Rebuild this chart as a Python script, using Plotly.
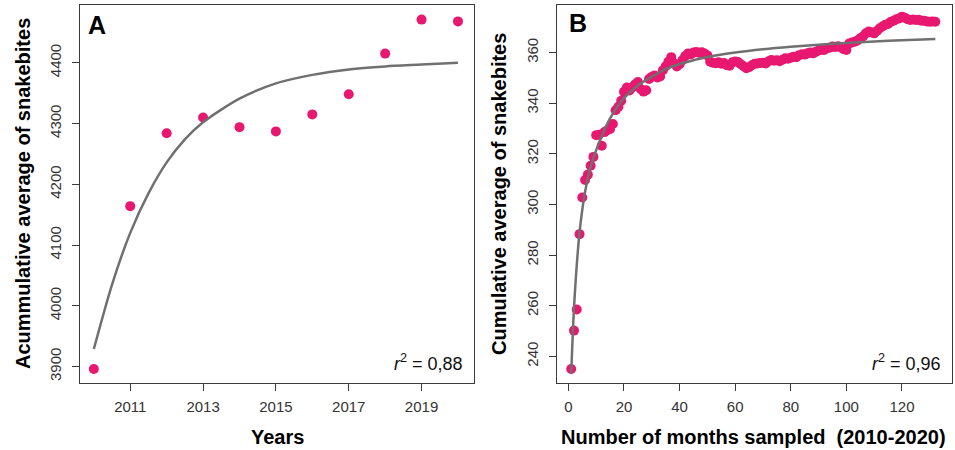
import plotly.graph_objects as go

# ---------------- Data ----------------
years = [2010, 2011, 2012, 2013, 2014, 2015, 2016, 2017, 2018, 2019, 2020]
annual_cum_avg = [3896, 4164, 4284, 4310, 4294, 4287, 4315, 4348, 4415, 4471, 4468]

fit_years = [2010, 2010.5, 2011, 2011.5, 2012, 2012.5, 2013, 2014, 2015, 2016, 2017, 2018, 2019, 2020]
fit_annual = [3929, 4035, 4120, 4185, 4236, 4274, 4302, 4341, 4366, 4380, 4389, 4394, 4397, 4400]

months = list(range(1, 133))
monthly_cum_avg = [
    235.0, 250.2, 258.5, 288.3, 302.8, 309.7, 311.8, 315.3, 318.8, 327.4,
    327.6, 323.2, 328.6, 329.3, 329.8, 331.8, 337.2, 338.6, 341.0, 344.5,
    346.2, 345.0, 346.3, 347.5, 348.4, 345.6, 344.6, 345.1, 349.6, 350.4,
    351.0, 350.2, 350.6, 353.0, 354.6, 356.5, 358.2, 355.8, 354.5, 355.4,
    357.0, 358.6, 359.6, 359.3, 360.0, 360.2, 359.9, 360.1, 359.6, 358.9,
    356.4, 356.0, 355.8, 356.2, 355.6, 355.9, 355.0, 354.8, 356.2, 356.5,
    356.3, 355.4, 354.6, 353.8, 354.2, 355.0, 355.6, 355.7, 355.9, 356.0,
    355.7, 356.6, 357.1, 356.8, 357.0, 356.6, 357.2, 357.8, 357.6, 358.0,
    358.4, 358.2, 359.0, 359.3, 359.2, 359.7, 360.0, 359.7, 360.3, 360.8,
    361.1, 361.0, 361.7, 361.9, 362.4, 362.2, 362.5, 362.0, 361.3, 361.0,
    363.6, 364.0, 364.3, 364.8, 365.7, 366.4, 367.6, 368.3, 368.0, 367.6,
    368.5, 369.6, 370.3, 371.0, 371.3, 372.2, 372.6, 373.2, 373.5, 374.2,
    373.8, 373.2, 372.9, 373.1, 372.9, 373.0, 372.6, 372.6, 372.3, 372.2,
    372.3, 372.2,
]

fit_months = [1, 1.5, 2, 2.5, 3, 4, 5, 6, 7, 8, 10, 12, 15, 20, 25, 30, 35, 40, 45, 50,
              60, 70, 80, 90, 100, 110, 120, 132]
fit_monthly = [233, 247, 259, 268, 276, 289, 298, 305, 310.5, 315, 321.5, 327, 334, 342, 347,
               350.5, 353.5, 355.5, 357, 358.3, 360, 361.3, 362.3, 363.1, 363.8, 364.4, 364.9, 365.4]

xticks_a = [2011, 2013, 2015, 2017, 2019]
yticks_a = [3900, 4000, 4100, 4200, 4300, 4400]
xticks_b = [0, 20, 40, 60, 80, 100, 120]
yticks_b = [240, 260, 280, 300, 320, 340, 360]

# ---------------- Style ----------------
PINK = "rgb(232,24,112)"
GREY = "rgb(112,112,112)"
AXC = "#3a3a3a"
FONT = "Liberation Sans, Arial, sans-serif"
W, H = 955, 450

fig = go.Figure()
fig.add_trace(go.Scatter(x=years, y=annual_cum_avg, mode="markers",
                         marker=dict(color=PINK, size=10), xaxis="x", yaxis="y",
                         showlegend=False))
fig.add_trace(go.Scatter(x=fit_years, y=fit_annual, mode="lines",
                         line=dict(color=GREY, width=2.5, shape="spline", smoothing=0.8),
                         xaxis="x", yaxis="y", showlegend=False))
fig.add_trace(go.Scatter(x=months, y=monthly_cum_avg, mode="markers",
                         marker=dict(color=PINK, size=10), xaxis="x2", yaxis="y2",
                         showlegend=False))
fig.add_trace(go.Scatter(x=fit_months, y=fit_monthly, mode="lines",
                         line=dict(color=GREY, width=2.5, shape="spline", smoothing=0.8),
                         xaxis="x2", yaxis="y2", showlegend=False))

def px_x(p):
    return p / W

def px_y(p):
    return 1 - p / H

ydom = [px_y(383), px_y(5)]
common = dict(showgrid=False, zeroline=False, showline=True, linecolor=AXC, linewidth=1,
              mirror=True, ticks="outside", ticklen=7, tickcolor=AXC, tickwidth=1,
              tickfont=dict(family=FONT, size=15, color="#333333"))

fig.update_layout(
    width=W, height=H,
    margin=dict(l=0, r=0, t=0, b=0),
    paper_bgcolor="white", plot_bgcolor="white",
    font=dict(family=FONT),
    xaxis=dict(domain=[px_x(80), px_x(474)], range=[2009.62, 2020.44],
               tickvals=xticks_a, anchor="y", ticklabelstandoff=3, **common),
    yaxis=dict(domain=ydom, range=[3873, 4495], tickvals=yticks_a, anchor="x",
               tickangle=-90, ticklabelstandoff=5, **common),
    xaxis2=dict(domain=[px_x(557), px_x(952)], range=[-4.1, 138.0],
                tickvals=xticks_b, anchor="y2", ticklabelstandoff=3, **common),
    yaxis2=dict(domain=ydom, range=[229.5, 378.8], tickvals=yticks_b, anchor="x2",
                tickangle=-90, ticklabelstandoff=5, **common),
)

ann = []
title_font = dict(family=FONT, size=20, color="black")
ann.append(dict(text="<b>Years</b>", x=px_x(277), y=px_y(437), xref="paper", yref="paper",
                showarrow=False, font=title_font, xanchor="center", yanchor="middle"))
ann.append(dict(text="<b>Number of months sampled  (2010-2020)</b>", x=px_x(753), y=px_y(437),
                xref="paper", yref="paper", showarrow=False, font=title_font,
                xanchor="center", yanchor="middle"))
ann.append(dict(text="<b>Acummulative average of snakebites</b>", x=px_x(23), y=px_y(194),
                xref="paper", yref="paper", showarrow=False, font=title_font, textangle=-90,
                xanchor="center", yanchor="middle"))
ann.append(dict(text="<b>Cumulative average of snakebites</b>", x=px_x(499), y=px_y(194),
                xref="paper", yref="paper", showarrow=False, font=title_font, textangle=-90,
                xanchor="center", yanchor="middle"))
ann.append(dict(text="<b>A</b>", x=px_x(86), y=px_y(25), xref="paper", yref="paper",
                showarrow=False, font=dict(family=FONT, size=25, color="black"),
                xanchor="left", yanchor="middle"))
ann.append(dict(text="<b>B</b>", x=px_x(567), y=px_y(23), xref="paper", yref="paper",
                showarrow=False, font=dict(family=FONT, size=25, color="black"),
                xanchor="left", yanchor="middle"))
r_font = dict(family=FONT, size=18, color="#111111")
ann.append(dict(text="<i>r</i><sup>2</sup> = 0,88", x=px_x(465), y=px_y(362), xref="paper",
                yref="paper", showarrow=False, font=r_font, xanchor="right", yanchor="middle"))
ann.append(dict(text="<i>r</i><sup>2</sup> = 0,96", x=px_x(943), y=px_y(362), xref="paper",
                yref="paper", showarrow=False, font=r_font, xanchor="right", yanchor="middle"))
fig.update_layout(annotations=ann)

fig.write_html("out.html", config={"displayModeBar": False},
               post_script="document.body.style.margin='0';")
